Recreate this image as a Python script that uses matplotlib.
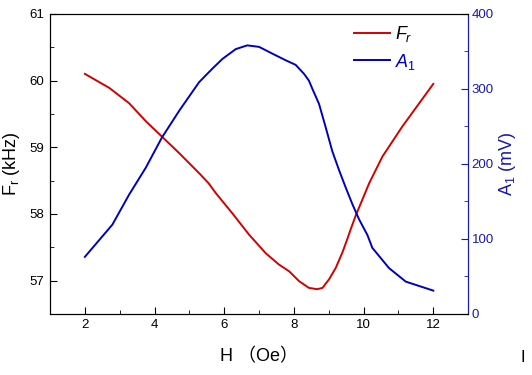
import matplotlib.pyplot as plt
from matplotlib.ticker import MultipleLocator

plt.rcParams['font.family'] = ['Liberation Sans', 'Noto Sans CJK SC', 'DejaVu Sans']
plt.rcParams['mathtext.fontset'] = 'custom'
plt.rcParams['mathtext.rm'] = 'Liberation Sans'
plt.rcParams['mathtext.it'] = 'Liberation Sans:italic'

# resonance frequency Fr (kHz) vs H (Oe)
h_fr = [2.0, 2.70, 3.27, 3.75, 4.21, 4.71, 5.28, 5.55, 5.76, 6.23, 6.71, 7.19,
        7.57, 7.86, 8.15, 8.43, 8.67, 8.82, 9.01, 9.20, 9.39, 9.53, 9.63, 9.77,
        10.16, 10.54, 11.11, 12.0]
fr = [60.10, 59.89, 59.66, 59.39, 59.16, 58.91, 58.61, 58.46, 58.31, 58.01, 57.69, 57.41,
      57.24, 57.14, 56.99, 56.89, 56.87, 56.89, 57.02, 57.19, 57.42, 57.62, 57.77, 57.97,
      58.46, 58.86, 59.31, 59.95]

# amplitude A1 (mV) vs H (Oe)
h_a1 = [2.0, 2.79, 3.27, 3.75, 4.21, 4.71, 5.28, 5.66, 5.95, 6.33, 6.66, 7.00,
        7.38, 7.77, 8.05, 8.29, 8.43, 8.53, 8.72, 8.91, 9.10, 9.30, 9.49, 9.68,
        9.87, 10.11, 10.25, 10.73, 11.21, 12.0]
a1 = [76, 119, 159, 195, 235, 271, 309, 327, 340, 353, 358, 356,
      347, 338, 332, 320, 311, 300, 280, 249, 217, 191, 168, 146,
      126, 105, 88, 61, 43, 31]

red = '#d40000'
blue = '#0000c0'
navy = '#1a1aa8'

fig = plt.figure(figsize=(5.32, 3.75), dpi=100)
ax = fig.add_axes([0.094, 0.163, 0.786, 0.8])
ax2 = ax.twinx()

l1, = ax.plot(h_fr, fr, color=red, lw=1.4, label=r'$F_r$')
l2, = ax2.plot(h_a1, a1, color=blue, lw=1.4, label=r'$A_1$')

ax.set_xlim(1, 13)
ax.set_ylim(56.5, 61)
ax2.set_ylim(0, 400)

ax.xaxis.set_major_locator(MultipleLocator(2))
ax.xaxis.set_minor_locator(MultipleLocator(1))
ax.yaxis.set_major_locator(MultipleLocator(1))
ax.yaxis.set_minor_locator(MultipleLocator(0.5))
ax2.yaxis.set_major_locator(MultipleLocator(100))
ax2.yaxis.set_minor_locator(MultipleLocator(50))

ax.tick_params(which='both', direction='in', labelsize=9.5)
ax.tick_params(which='major', length=5)
ax.tick_params(which='minor', length=3)
ax.tick_params(axis='y', pad=4.5)
ax.tick_params(axis='x', pad=4)
ax.tick_params(top=False, right=False)
ax2.tick_params(which='both', direction='in', labelsize=9.5, colors=navy, pad=2.5)
ax2.tick_params(which='major', length=5)
ax2.tick_params(which='minor', length=3)
ax2.spines['right'].set_color(navy)

ax.set_xlabel('H （Oe）', fontsize=13, labelpad=12)
ax.set_ylabel(r'F$_\mathregular{r}$ (kHz)', fontsize=13)
ax.yaxis.set_label_coords(-0.066, 0.5)
ax2.set_ylabel(r'A$_\mathregular{1}$ (mV)', fontsize=13, color=navy)
ax2.yaxis.set_label_coords(1.07, 0.5)

leg = ax.legend(handles=[l1, l2], loc='upper left', bbox_to_anchor=(0.728, 0.965),
                frameon=False, fontsize=13, handlelength=1.95, handletextpad=0.3,
                labelspacing=0.4, borderpad=0, borderaxespad=0)
leg.get_texts()[0].set_color('black')
leg.get_texts()[1].set_color(blue)

fig.text(0.978, 0.035, 'I', fontsize=12)

fig.savefig('out.png', dpi=100)
